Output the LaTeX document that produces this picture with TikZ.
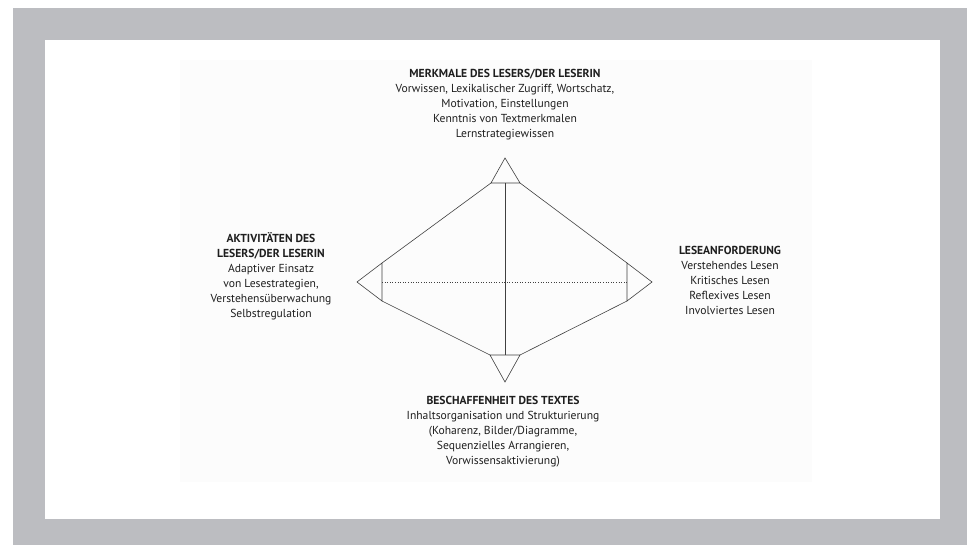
\documentclass[tikz,border=0pt]{standalone}
\usepackage{fontspec}
\setmainfont{PT Sans}
\definecolor{frame}{HTML}{BCBDC1}
\definecolor{ink}{HTML}{1E1E1E}
\definecolor{scan}{HTML}{FCFCFC}
\begin{document}
\begin{tikzpicture}[x=1pt,y=-1pt,
    txt/.style={align=center, font=\fontsize{11.6}{15}\selectfont, text=ink, inner sep=0pt},
    edge/.style={draw=ink!85, line width=0.6pt}]
  \useasboundingbox (0,0) rectangle (967,545);
  \fill[frame] (13,8) rectangle (967,545);
  \fill[white] (45,40) rectangle (940,519);
  \fill[scan] (180,60) rectangle (812,482);

  % corners of the diamond
  \coordinate (top) at (505,158);
  \coordinate (tl) at (491,183);
  \coordinate (tm) at (505,183);
  \coordinate (tr) at (520,183);
  \coordinate (bot) at (505,382);
  \coordinate (bl) at (490,355);
  \coordinate (bm) at (505,355);
  \coordinate (br) at (520,355);
  \coordinate (left) at (357,282);
  \coordinate (lt) at (382,263);
  \coordinate (lm) at (382,282);
  \coordinate (lb) at (382,301);
  \coordinate (right) at (652,282);
  \coordinate (rt) at (627,263);
  \coordinate (rm) at (627,282);
  \coordinate (rb) at (627,301);

  \foreach \a/\b/\c in {tl/top/tr, bl/bot/br, lt/left/lb, rt/right/rb}
    \draw[edge] (\a) -- (\b) -- (\c) -- cycle;
  \foreach \a/\b in {tl/lt, tr/rt, bl/lb, br/rb}
    \draw[edge] (\a) -- (\b);
  \draw[edge] (tm) -- (bm);
  \draw[edge, dotted] (lm) -- (rm);

  \node[txt] (reader) at (505,105) {\textbf{MERKMALE DES LESERS/DER LESERIN}\\
    Vorwissen, Lexikalischer Zugriff, Wortschatz,\\Motivation, Einstellungen\\
    Kenntnis von Textmerkmalen\\Lernstrategiewissen};
  \node[txt] (activity) at (271,276) {\textbf{AKTIVITÄTEN DES}\\\textbf{LESERS/DER LESERIN}\\
    Adaptiver Einsatz\\von Lesestrategien,\\Verstehensüberwachung\\Selbstregulation};
  \node[txt] (demand) at (730,280) {\textbf{LESEANFORDERUNG}\\Verstehendes Lesen\\
    Kritisches Lesen\\Reflexives Lesen\\Involviertes Lesen};
  \node[txt] (text) at (503,432) {\textbf{BESCHAFFENHEIT DES TEXTES}\\
    Inhaltsorganisation und Strukturierung\\(Koharenz, Bilder/Diagramme,\\
    Sequenzielles Arrangieren,\\Vorwissensaktivierung)};
\end{tikzpicture}
\end{document}
